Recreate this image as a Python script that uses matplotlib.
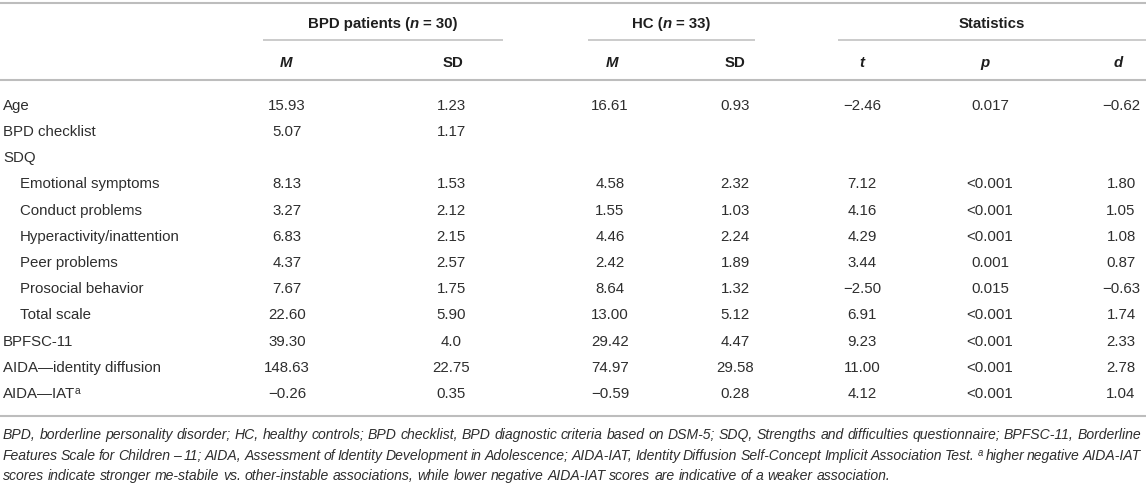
import matplotlib
matplotlib.use("Agg")
import matplotlib.pyplot as plt

# ---------------- data ----------------
row_labels = ["Age", "BPD checklist", "SDQ", "Emotional symptoms", "Conduct problems",
              "Hyperactivity/inattention", "Peer problems", "Prosocial behavior",
              "Total scale", "BPFSC-11", "AIDA\u2014identity diffusion", "AIDA\u2014IAT"]
row_indent = [0, 0, 0, 1, 1, 1, 1, 1, 1, 0, 0, 0]
row_sup = ["", "", "", "", "", "", "", "", "", "", "", "a"]

bpd_m = ["15.93", "5.07", "", "8.13", "3.27", "6.83", "4.37", "7.67", "22.60", "39.30", "148.63", "\u22120.26"]
bpd_sd = ["1.23", "1.17", "", "1.53", "2.12", "2.15", "2.57", "1.75", "5.90", "4.0", "22.75", "0.35"]
hc_m = ["16.61", "", "", "4.58", "1.55", "4.46", "2.42", "8.64", "13.00", "29.42", "74.97", "\u22120.59"]
hc_sd = ["0.93", "", "", "2.32", "1.03", "2.24", "1.89", "1.32", "5.12", "4.47", "29.58", "0.28"]
t_val = ["\u22122.46", "", "", "7.12", "4.16", "4.29", "3.44", "\u22122.50", "6.91", "9.23", "11.00", "4.12"]
p_val = ["0.017", "", "", "<0.001", "<0.001", "<0.001", "0.001", "0.015", "<0.001", "<0.001", "<0.001", "<0.001"]
d_val = ["\u22120.62", "", "", "1.80", "1.05", "1.08", "0.87", "\u22120.63", "1.74", "2.33", "2.78", "1.04"]

group_headers = ["BPD patients", "HC", "Statistics"]
group_n = ["30", "33", ""]
sub_headers = ["M", "SD", "M", "SD", "t", "p", "d"]
sub_italic = [True, False, True, False, True, True, True]

footnote_lines = [
    "BPD, borderline personality disorder; HC, healthy controls; BPD checklist, BPD diagnostic criteria based on DSM-5; SDQ, Strengths and difficulties questionnaire; BPFSC-11, Borderline",
    "Features Scale for Children \u2013 11; AIDA, Assessment of Identity Development in Adolescence; AIDA-IAT, Identity Diffusion Self-Concept Implicit Association Test. ^a higher negative AIDA-IAT",
    "scores indicate stronger me-stabile vs. other-instable associations, while lower negative AIDA-IAT scores are indicative of a weaker association.",
]
footnote_justify = [True, True, False]

# ---------------- layout ----------------
W, H = 1146, 485
fig = plt.figure(figsize=(W / 100, H / 100), dpi=100)
ax = fig.add_axes([0, 0, 1, 1])
ax.set_xlim(0, W)
ax.set_ylim(H, 0)
ax.axis("off")
renderer = fig.canvas.get_renderer()

FONT = "Liberation Sans"
FS = 10.8
FN_FS = 10.1
TXT = "#2e2e2e"
HDR = "#1e1e1e"
RULE = "#bdbdbd"


def measure(s, **kw):
    t = ax.text(0, 0, s, fontfamily=FONT, **kw)
    w = t.get_window_extent(renderer).width
    t.remove()
    return w


def space_w(**kw):
    return measure("a a", **kw) - measure("aa", **kw)


def rich(x, y, segs, ha="center", color=TXT):
    """segs: list of (text, kw, dy, gap_before)"""
    widths = [measure(s, **kw) for s, kw, dy, g in segs]
    total = sum(widths) + sum(g for s, kw, dy, g in segs)
    if ha == "center":
        x0 = x - total / 2
    elif ha == "right":
        x0 = x - total
    else:
        x0 = x
    cx = x0
    for (s, kw, dy, g), w in zip(segs, widths):
        cx += g
        ax.text(cx, y + dy, s, fontfamily=FONT, ha="left", va="baseline", color=color, **kw)
        cx += w


def baseline(yc, fs):
    return yc + 0.36 * fs * 100 / 72


# rules
ax.plot([0, W], [4, 4], color=RULE, lw=1.5, solid_capstyle="butt")
ax.plot([0, W], [81, 81], color=RULE, lw=1.5, solid_capstyle="butt")
ax.plot([0, W], [417, 417], color=RULE, lw=1.5, solid_capstyle="butt")
group_spans = [(263, 503), (588, 755), (838, 1146)]
for a, b in group_spans:
    ax.plot([a, b], [41, 41], color=RULE, lw=1.1, solid_capstyle="butt")

# group headers
B = dict(fontsize=FS, fontweight="bold")
BI = dict(fontsize=FS, fontweight="bold", fontstyle="italic")
sp_b = space_w(**B)
for (a, b), name, n in zip(group_spans, group_headers, group_n):
    xc = (a + b) / 2 if name != "BPD patients" else 383
    if n:
        segs = [(name + " (", B, 0, 0), ("n", BI, 0, 0), ("= " + n + ")", B, 0, sp_b)]
    else:
        segs = [(name, B, 0, 0)]
    rich(xc, baseline(23, FS), segs, color=HDR)

# sub headers
sub_x = [286, 453, 612, 735, 862, 985, 1118]
for x, s, it in zip(sub_x, sub_headers, sub_italic):
    ax.text(x, baseline(62, FS), s, fontfamily=FONT, fontsize=FS, fontweight="bold",
            fontstyle="italic" if it else "normal", ha="center", va="baseline", color=HDR)

# body
col_x = [287, 451, 610, 735, 862, 990, 1121]
columns = [bpd_m, bpd_sd, hc_m, hc_sd, t_val, p_val, d_val]
N = dict(fontsize=FS)
SUP = dict(fontsize=FS * 0.68)
y0, dy = 104.5, 26.2
for i, lab in enumerate(row_labels):
    yc = y0 + i * dy
    yb = baseline(yc, FS)
    x = 3 + 17 * row_indent[i]
    segs = [(lab, N, 0, 0)]
    if row_sup[i]:
        segs.append((row_sup[i], SUP, -4.5, -0.5))
    rich(x, yb, segs, ha="left")
    for cx, col in zip(col_x, columns):
        if col[i]:
            ax.text(cx, yb, col[i], fontfamily=FONT, fontsize=FS, ha="center",
                    va="baseline", color=TXT)

# footnote (justified)
IT = dict(fontsize=FN_FS, fontstyle="italic")
ITSUP = dict(fontsize=FN_FS * 0.68, fontstyle="italic")
sp_i = space_w(**IT)
fn_y = [434, 455, 475]
left, right = 3, 1141
for line, just, yc in zip(footnote_lines, footnote_justify, fn_y):
    yb = baseline(yc, FN_FS)
    words = line.split(" ")
    items = []
    for w in words:
        if w.startswith("^"):
            items.append((w[1:], ITSUP, -4.0))
        else:
            items.append((w, IT, 0))
    widths = [measure(s, **kw) for s, kw, d in items]
    if just:
        gap = (right - left - sum(widths)) / (len(items) - 1)
    else:
        gap = sp_i
    cx = left
    for (s, kw, d), w in zip(items, widths):
        ax.text(cx, yb + d, s, fontfamily=FONT, ha="left", va="baseline", color=TXT, **kw)
        cx += w + gap

fig.savefig("out.png", dpi=100)
